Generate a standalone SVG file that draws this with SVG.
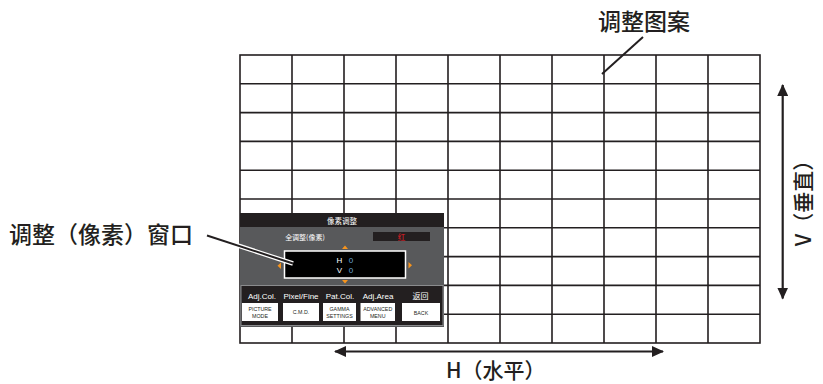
<svg xmlns="http://www.w3.org/2000/svg" width="823" height="384" viewBox="0 0 823 384">
<style>
.grid{stroke:#231f20;stroke-width:1.6;fill:none}
.cjk{font-family:"Noto Sans CJK SC","Noto Sans",sans-serif;fill:#231f20}
.big{font-weight:500}
.ui{font-family:"Liberation Sans","Noto Sans CJK SC",sans-serif}
.w{fill:#ffffff}
.btn{fill:#ffffff}
.bt{font-family:"Liberation Sans",sans-serif;font-size:5.3px;fill:#231f20;text-anchor:middle}
.lab{font-size:8px;fill:#ffffff;text-anchor:middle}
.tri{fill:#f7941d}
.arr{stroke:#231f20;stroke-width:2.2;fill:none}
</style>
<defs>
<marker id="ah" viewBox="0 0 12 11" refX="11" refY="5.5" markerWidth="12" markerHeight="11" markerUnits="userSpaceOnUse" orient="auto-start-reverse">
<path d="M0,0 L12,5.5 L0,11 Z" fill="#231f20"/>
</marker>
</defs>
<rect width="823" height="384" fill="#ffffff"/>
<g id="grid-pattern">
<rect class="grid" x="240" y="55" width="520" height="288"/>
<path class="grid" d="M292,55V343M344,55V343M396,55V343M448,55V343M500,55V343M552,55V343M604,55V343M656,55V343M708,55V343M240,83.8H760M240,112.6H760M240,141.4H760M240,170.2H760M240,199H760M240,227.8H760M240,256.6H760M240,285.4H760M240,314.2H760"/>
</g>
<g id="pixel-window">
<rect x="240" y="213" width="204" height="114" fill="#58595b"/>
<rect x="240" y="213" width="204" height="14" fill="#231f20"/>
<text class="cjk w" x="342" y="224" font-size="7.5" text-anchor="middle" style="fill:#fff">像素调整</text>
<text class="cjk" x="305" y="239.5" font-size="7" text-anchor="middle" style="fill:#fff">全调整(像素)</text>
<rect x="373" y="232" width="57" height="9" fill="#231f20"/>
<text class="cjk" x="401.5" y="239.8" font-size="7.5" text-anchor="middle" style="fill:#ed1c24">红</text>
<path class="tri" d="M342,249 L345,245.5 L348,249 Z"/>
<path class="tri" d="M342,280 L348,280 L345,283.5 Z"/>
<path class="tri" d="M281,262.5 L277.5,265.8 L281,269 Z"/>
<path class="tri" d="M408.5,262 L412,265.3 L408.5,268.5 Z"/>
<rect x="284.5" y="251" width="121" height="27" fill="#000000" stroke="#ffffff" stroke-width="1.5"/>
<text class="ui" x="339.5" y="263" font-size="8" text-anchor="middle" fill="#ffffff">H</text>
<text class="ui" x="351" y="263" font-size="8" text-anchor="middle" fill="#6aa6d6">0</text>
<text class="ui" x="339.5" y="273" font-size="8" text-anchor="middle" fill="#ffffff">V</text>
<text class="ui" x="351" y="273" font-size="8" text-anchor="middle" fill="#6aa6d6">0</text>
<rect x="241" y="285.5" width="202" height="40" fill="#231f20" stroke="#8a8b8d" stroke-width="1"/>
<text class="ui lab" x="262" y="299">Adj.Col.</text>
<text class="ui lab" x="301" y="299">Pixel/Fine</text>
<text class="ui lab" x="340" y="299">Pat.Col.</text>
<text class="ui lab" x="378" y="299">Adj.Area</text>
<text class="cjk lab" x="420.5" y="299" font-size="7.5" style="fill:#fff">返回</text>
<rect class="btn" x="242" y="303" width="36" height="18"/>
<rect class="btn" x="283" y="303" width="36" height="18"/>
<rect class="btn" x="323" y="303" width="33" height="18"/>
<rect class="btn" x="360.5" y="303" width="34.5" height="18"/>
<rect class="btn" x="402" y="303" width="38" height="18"/>
<text class="bt" x="260" y="311">PICTURE</text>
<text class="bt" x="260" y="317.5">MODE</text>
<text class="bt" x="301" y="314.3">C.M.D.</text>
<text class="bt" x="339.5" y="311">GAMMA</text>
<text class="bt" x="339.5" y="317.5">SETTINGS</text>
<text class="bt" x="377.7" y="311">ADVANCED</text>
<text class="bt" x="377.7" y="317.5">MENU</text>
<text class="bt" x="421" y="314.5" font-size="6">BACK</text>
</g>
<g id="connectors">
<line x1="207" y1="235.5" x2="293" y2="263.5" stroke="#ffffff" stroke-width="4.5"/>
<line x1="207" y1="235.5" x2="293" y2="263.5" stroke="#231f20" stroke-width="2"/>
<line x1="602" y1="74" x2="643" y2="37" stroke="#231f20" stroke-width="2"/>
<line class="arr" x1="335" y1="351.5" x2="663" y2="351.5" marker-start="url(#ah)" marker-end="url(#ah)"/>
<line class="arr" x1="782.7" y1="85" x2="782.7" y2="298.5" marker-start="url(#ah)" marker-end="url(#ah)"/>
</g>
<g id="labels">
<text class="cjk big" x="598" y="30" font-size="23">调整图案</text>
<text class="cjk big" x="9" y="242.5" font-size="23">调整（像素）窗口</text>
<text class="cjk big" x="446" y="377.5" font-size="21">H（水平）</text>
<text class="cjk big" x="0" y="0" font-size="21" text-anchor="middle" transform="translate(811,198) rotate(-90)">V（垂直）</text>
</g>
</svg>
